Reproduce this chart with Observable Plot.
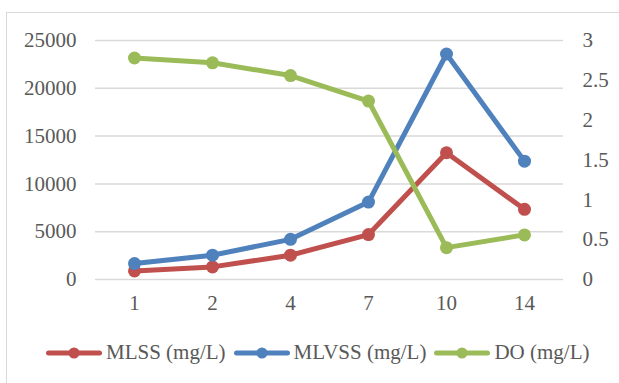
<!DOCTYPE html>
<html><head><meta charset="utf-8">
<style>
body{margin:0;background:#fff;font-family:'Liberation Serif';}
#wrap{position:relative;width:619px;height:383px;overflow:hidden;background:#fff;}
#frame{position:absolute;left:6px;top:12px;width:700px;height:500px;border:1px solid #d9d9d9;box-sizing:border-box;}
#chart{position:absolute;left:0;top:0;}
#legend{position:absolute;left:46px;top:342px;height:21px;display:flex;align-items:center;font-size:21px;color:#595959;white-space:nowrap;}
.item{display:flex;align-items:center;margin-right:8px;}
.item svg{margin-right:4px;}
</style>
<script src="https://cdn.jsdelivr.net/npm/d3@7"></script>
<script src="https://cdn.jsdelivr.net/npm/@observablehq/plot@0.6"></script>
</head><body>
<div id="wrap"><div id="frame"></div><div id="chart"></div><div id="legend" style="font-family:'Liberation Serif'"></div></div>
<script>
const days = ["1","2","4","7","10","14"];
const mlss = [900, 1320, 2540, 4700, 13260, 7340];
const mlvss = [1670, 2540, 4200, 8100, 23590, 12380];
const doVals = [2.78, 2.72, 2.56, 2.24, 0.40, 0.56];
const leftTicks = [0, 5000, 10000, 15000, 20000, 25000];
const rightTicks = [0, 0.5, 1, 1.5, 2, 2.5, 3];
const seriesNames = ["MLSS (mg/L)", "MLVSS (mg/L)", "DO (mg/L)"];
const colors = ["#C0504D", "#4F81BD", "#9BBB59"];

const k = 25000 / 3; // right axis max 3 maps onto left max 25000
const series = [
  days.map((d, i) => ({day: d, v: mlss[i]})),
  days.map((d, i) => ({day: d, v: mlvss[i]})),
  days.map((d, i) => ({day: d, v: doVals[i] * k}))
];

const marks = [
  Plot.gridY(leftTicks, {stroke: "#d9d9d9", strokeOpacity: 1, strokeWidth: 1.5}),
  Plot.axisY(leftTicks, {anchor: "left", tickSize: 0, tickPadding: 19, label: null, tickFormat: d => String(d)}),
  Plot.axisY(rightTicks.map(v => v * k), {anchor: "right", tickSize: 0, tickPadding: 19, label: null, tickFormat: d => String(+(d / k).toFixed(1))}),
  Plot.axisX({tickSize: 0, tickPadding: 16, label: null})
];
series.forEach((s, i) => {
  marks.push(Plot.line(s, {x: "day", y: "v", stroke: colors[i], strokeWidth: 5}));
  marks.push(Plot.dot(s, {x: "day", y: "v", r: 6.5, fill: colors[i], stroke: "none"}));
});

const chart = Plot.plot({
  width: 619, height: 320,
  marginLeft: 95, marginRight: 56, marginTop: 40, marginBottom: 41,
  style: {fontFamily: "Liberation Serif", fontSize: "21px", color: "#595959", background: "transparent", overflow: "visible"},
  x: {type: "point", domain: days, padding: 0.5},
  y: {domain: [0, 25000]},
  marks
});
chart.setAttribute("font-family", "Liberation Serif");
document.getElementById("chart").append(chart);

const legend = document.getElementById("legend");
seriesNames.forEach((name, i) => {
  const item = document.createElement("div");
  item.className = "item";
  item.innerHTML = `<svg width="56" height="14"><line x1="2.5" y1="7" x2="53.5" y2="7" stroke="${colors[i]}" stroke-width="5" stroke-linecap="round"/><circle cx="28" cy="7" r="5.5" fill="${colors[i]}"/></svg><span style="font-family:'Liberation Serif'">${name}</span>`;
  legend.append(item);
});
</script>
</body></html>
